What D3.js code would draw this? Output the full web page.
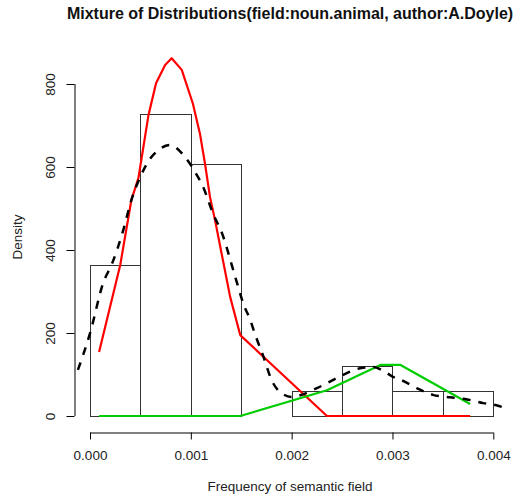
<!DOCTYPE html>
<html><head><meta charset="utf-8">
<script src="https://cdn.jsdelivr.net/npm/d3@7/dist/d3.min.js"></script>
<style>body{margin:0;background:#fff}svg{display:block}text{font-family:"Liberation Sans",Arial,sans-serif}</style>
</head><body>
<script>
// Histogram (density scale), bins of width 0.0005
const binEdges = [0, 0.0005, 0.001, 0.0015, 0.002, 0.0025, 0.003, 0.0035, 0.004];
const binDensity = [364, 728, 607, 0, 60, 120, 60, 60];

// Component curves evaluated at observed values
const obsX = [0.00009, 0.0003, 0.00041, 0.00048, 0.00058, 0.000655, 0.000745, 0.00081, 0.00091, 0.00102, 0.00109, 0.00114, 0.00119, 0.00124, 0.00139, 0.00149, 0.00235, 0.00288, 0.00308, 0.00377];
const redY   = [154, 364, 520, 573, 725, 802, 846, 862, 834, 753, 681, 609, 528, 472, 287, 195, 0, 0, 0, 0];
const greenY = [0, 0, 0, 0, 0, 0, 0, 0, 0, 0, 0, 0, 0, 0, 0, 0, 62, 123, 123, 29];

// Mixture density (dashed)
const mixX = [-0.00012, 0, 0.00013, 0.00022, 0.00033, 0.00041, 0.0005, 0.0006, 0.00068, 0.00079, 0.00094, 0.00104, 0.00112, 0.00122, 0.00131, 0.00142, 0.00147, 0.00152, 0.00159, 0.00164, 0.00172, 0.0018, 0.0019, 0.002, 0.0021, 0.00225, 0.00238, 0.00251, 0.00268, 0.00281, 0.0029, 0.003, 0.00311, 0.00324, 0.0034, 0.00357, 0.00374, 0.0039, 0.00403, 0.00415];
const mixY = [111, 199, 320, 368, 448, 520, 577, 621, 641, 653, 625, 589, 553, 488, 440, 352, 311, 271, 231, 195, 143, 87, 55, 46, 51, 67, 83, 99, 115, 118, 110, 95, 84, 67, 51, 45, 40, 31, 26, 16];

const xTicks = [0, 0.001, 0.002, 0.003, 0.004];
const xTickLabels = ["0.000", "0.001", "0.002", "0.003", "0.004"];
const yTicks = [0, 200, 400, 600, 800];
const yTickLabels = ["0", "200", "400", "600", "800"];

const W = 516, H = 500;
const FS = 13.5;
const svg = d3.select("body").append("svg").attr("width", W).attr("height", H);
const x = d3.scaleLinear().domain([0, 0.004]).range([90, 493.3]);
const y = d3.scaleLinear().domain([0, 800]).range([416, 84]);

// title
svg.append("text").attr("x", 290).attr("y", 18.5).attr("text-anchor", "middle")
  .attr("font-size", 16).attr("font-weight", "bold").attr("fill", "#111")
  .text("Mixture of Distributions(field:noun.animal, author:A.Doyle)");

// histogram bars
svg.append("g").selectAll("rect").data(binDensity).join("rect")
  .attr("x", (d, i) => Math.round(x(binEdges[i])) + 0.5)
  .attr("width", (d, i) => Math.round(x(binEdges[i + 1])) - Math.round(x(binEdges[i])))
  .attr("y", d => Math.round(y(d)) + 0.5)
  .attr("height", d => Math.round(y(0)) - Math.round(y(d)))
  .attr("fill", "none").attr("stroke", "#333").attr("stroke-width", 1);

// x axis (R style, offset)
const xAxis = d3.axisBottom(x).tickValues(xTicks).tickFormat((d, i) => xTickLabels[i]).tickSize(7);
const gx = svg.append("g").attr("transform", "translate(0,432.5)").call(xAxis);
gx.select(".domain").attr("d", `M${x(0)},0.5H${x(0.004)}`).attr("stroke", "#000");
gx.selectAll(".tick line").attr("stroke", "#000");
gx.selectAll(".tick text").remove();
gx.selectAll(".tick").append("text").attr("y", 27.5).attr("text-anchor", "middle")
  .attr("font-size", FS).attr("fill", "#222").text((d, i) => xTickLabels[i]);

// y axis
const yAxis = d3.axisLeft(y).tickValues(yTicks).tickFormat((d, i) => yTickLabels[i]).tickSize(8);
const gy = svg.append("g").attr("transform", "translate(74.5,0)").call(yAxis);
gy.select(".domain").attr("d", `M0.5,${y(800)}V${y(0)}`).attr("stroke", "#000");
gy.selectAll(".tick line").attr("stroke", "#000");
gy.selectAll(".tick text").remove();
gy.selectAll(".tick").append("text")
  .attr("transform", "translate(-20,0) rotate(-90)")
  .attr("text-anchor", "middle").attr("font-size", FS).attr("fill", "#222")
  .text((d, i) => yTickLabels[i]);

// axis titles
svg.append("text").attr("x", 290).attr("y", 490.5).attr("text-anchor", "middle")
  .attr("font-size", FS).attr("fill", "#222").text("Frequency of semantic field");
svg.append("text").attr("transform", "translate(21.5,237) rotate(-90)").attr("text-anchor", "middle")
  .attr("font-size", FS).attr("fill", "#222").text("Density");

// curves
const line = d3.line().x(d => x(d[0])).y(d => y(d[1]));
svg.append("path").attr("d", line(obsX.map((v, i) => [v, redY[i]])))
  .attr("fill", "none").attr("stroke", "#ff0000").attr("stroke-width", 2.2).attr("stroke-linejoin", "round");
svg.append("path").attr("d", line(obsX.map((v, i) => [v, greenY[i]])))
  .attr("fill", "none").attr("stroke", "#00cd00").attr("stroke-width", 2.2).attr("stroke-linejoin", "round");
const smooth = d3.line().x(d => x(d[0])).y(d => y(d[1])).curve(d3.curveMonotoneX);
svg.append("path").attr("d", smooth(mixX.map((v, i) => [v, mixY[i]])))
  .attr("fill", "none").attr("stroke", "#000").attr("stroke-width", 2.5).attr("stroke-dasharray", "8,8");
</script>
</body></html>
